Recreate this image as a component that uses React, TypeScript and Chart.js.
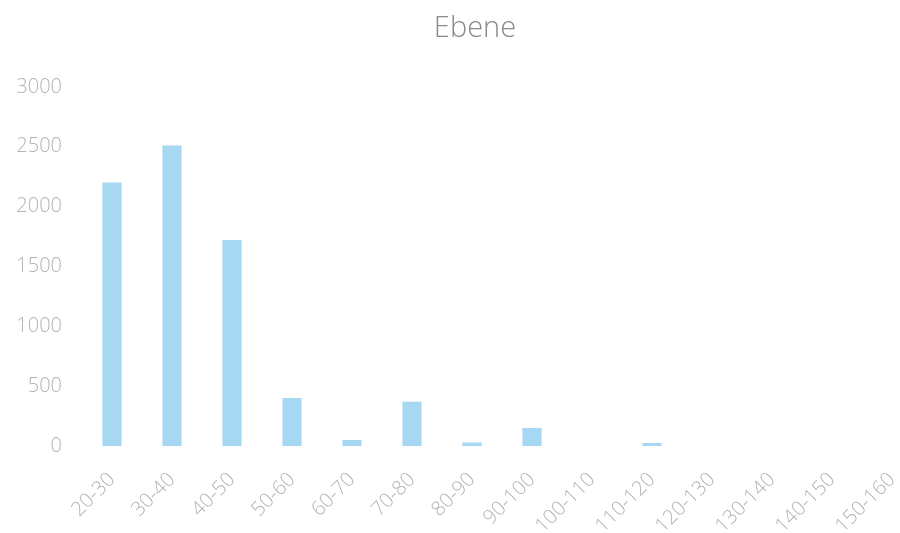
import React, { useEffect, useRef } from "react";
import { Chart, registerables } from "chart.js";

Chart.register(...registerables);

const title = "Ebene";
const categories = [
  "20-30", "30-40", "40-50", "50-60", "60-70", "70-80", "80-90",
  "90-100", "100-110", "110-120", "120-130", "130-140", "140-150", "150-160",
];
const counts = [2200, 2510, 1720, 400, 50, 370, 30, 150, 0, 25, 0, 0, 0, 0];
const yTicks = [0, 500, 1000, 1500, 2000, 2500, 3000];

export default function App() {
  const ref = useRef<HTMLCanvasElement | null>(null);

  useEffect(() => {
    if (!ref.current) return;
    const font = "'Open Sans', 'Liberation Sans', sans-serif";
    const chart = new Chart(ref.current, {
      type: "bar",
      data: {
        labels: categories,
        datasets: [
          {
            data: counts,
            backgroundColor: "#a6d8f3",
            borderWidth: 0,
            categoryPercentage: 1,
            barPercentage: 0.32,
          },
        ],
      },
      options: {
        responsive: false,
        animation: false,
        layout: { padding: { left: 0, right: 0, top: 0, bottom: 0 } },
        plugins: {
          legend: { display: false },
          tooltip: { enabled: false },
          title: {
            display: true,
            text: title,
            color: "#8a8a8a",
            font: { family: font, size: 29, weight: "300" as any, lineHeight: 1.2 },
            padding: { top: 11, bottom: 41 },
          },
        },
        scales: {
          x: {
            grid: { display: false, drawTicks: false },
            border: { display: false },
            ticks: {
              color: "#b3b3b3",
              autoSkip: false,
              maxRotation: 45,
              minRotation: 45,
              padding: 22,
              font: { family: font, size: 20, weight: "300" as any },
            },
            afterFit: (s: any) => {
              s.height = 87;
              s.paddingRight = 28;
            },
          },
          y: {
            min: 0,
            max: 3000,
            grid: { display: false, drawTicks: false },
            border: { display: false },
            afterBuildTicks: (s: any) => {
              s.ticks = yTicks.map((v) => ({ value: v }));
            },
            ticks: {
              color: "#b3b3b3",
              padding: 20,
              font: { family: font, size: 20, weight: "300" as any },
              callback: (v: any) => String(v),
            },
            afterFit: (s: any) => {
              s.width = 82;
            },
          },
        },
      },
    });
    return () => chart.destroy();
  }, []);

  return (
    <div
      style={{
        position: "fixed",
        left: 0,
        top: 0,
        width: 900,
        height: 533,
        overflow: "hidden",
        background: "#ffffff",
      }}
    >
      <canvas ref={ref} width={950} height={533} />
    </div>
  );
}
